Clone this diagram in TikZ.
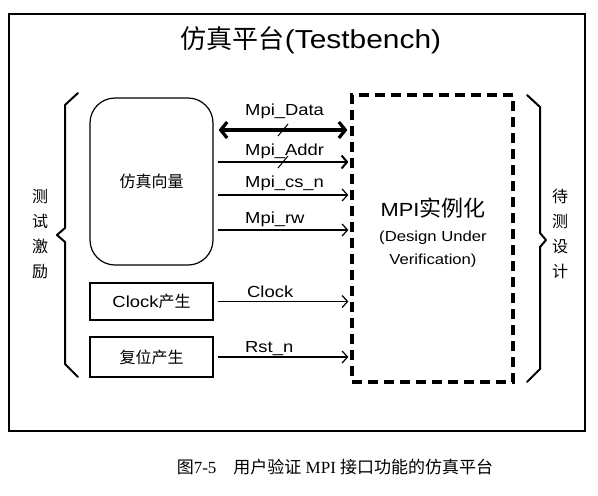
\documentclass[tikz,border=0pt]{standalone}
\usepackage{fontspec}
\setmainfont{Liberation Sans}[FakeStretch=1.15]
\newfontfamily\cjk{Noto Sans CJK SC}
\newfontfamily\capserif{Liberation Serif}
\usetikzlibrary{arrows.meta}
\begin{document}
\begin{tikzpicture}[x=1pt,y=-1pt,
  box/.style={draw,line width=1.2pt,inner sep=0pt,font=\fontsize{16}{18}\selectfont},
  sig/.style={line width=1.2pt,shorten <=4pt,shorten >=2pt,-{Straight Barb[length=5.5pt,width=12pt]}},
  lab/.style={anchor=base west,font=\fontsize{16}{18}\selectfont,inner sep=0pt},
  brace/.style={line width=2pt,line join=round,line cap=round},
  vtext/.style={font=\cjk\fontsize{16}{25}\selectfont,align=center,inner sep=0pt},
  slash/.style={line width=1pt}]
\useasboundingbox (0,0) rectangle (598,496);
% outer frame
\node[draw,line width=1.3pt,minimum width=576pt,minimum height=417pt,inner sep=0pt] (frame) at (297,222.5) {};
\node[font=\fontsize{26}{28}\selectfont,inner sep=0pt] (title) at (311,40) {{\cjk 仿真平台}(Testbench)};
% boxes
\node[box,rounded corners=25pt,minimum width=123pt,minimum height=167pt] (vec) at (151.5,181.5) {\cjk 仿真向量};
\node[box,minimum width=123pt,minimum height=37pt] (clk) at (151.5,301.5) {Clock{\cjk 产生}};
\node[box,minimum width=123pt,minimum height=40pt] (rst) at (151.5,357) {\cjk 复位产生};
\node[draw,line width=3.2pt,dash pattern=on 10pt off 6pt,minimum width=161pt,minimum height=287pt,inner sep=0pt] (dut) at (432.5,238.5) {};
\node[font=\fontsize{19}{22}\selectfont,inner sep=0pt] (dutname) at (433,208) {MPI{\cjk\fontsize{22}{24}\selectfont 实例化}};
\node[font=\fontsize{14.5}{23}\selectfont,align=center,inner sep=0pt] (dutsub) at (433,249) {(Design Under\\Verification)};
% row coordinates
\coordinate (yData) at (0,130);
\coordinate (yAddr) at (0,162);
\coordinate (yCs) at (0,195);
\coordinate (yRw) at (0,230);
% signals
\draw[line width=3.2pt,shorten <=5pt,shorten >=3pt,{Straight Barb[length=6.5pt,width=16pt]}-{Straight Barb[length=6.5pt,width=16pt]}] (vec.east |- yData) -- (dut.west |- yData);
\draw[sig,line width=2pt,-{Straight Barb[length=5.5pt,width=13pt]}] (vec.east |- yAddr) -- (dut.west |- yAddr);
\draw[sig] (vec.east |- yCs) -- (dut.west |- yCs);
\draw[sig] (vec.east |- yRw) -- (dut.west |- yRw);
\draw[sig] (clk.east) -- (clk.east -| dut.west);
\draw[sig] (rst.east) -- (rst.east -| dut.west);
% slashes
\coordinate (sD) at (283,130);
\coordinate (sA) at (283,162);
\draw[slash] ([shift={(-5pt,-6pt)}]sD) -- ([shift={(5pt,6pt)}]sD);
\draw[slash] ([shift={(-5pt,-6pt)}]sA) -- ([shift={(5pt,6pt)}]sA);
% labels
\node[lab] (lData) at (245,115) {Mpi\_Data};
\node[lab] (lAddr) at (245,155) {Mpi\_Addr};
\node[lab] (lCs) at (245,187) {Mpi\_cs\_n};
\node[lab] (lRw) at (245,223) {Mpi\_rw};
\node[lab] (lClk) at (247,297) {Clock};
\node[lab] (lRst) at (245,352) {Rst\_n};
% braces
\draw[brace] (78,93) -- (65,105) -- (65,228) -- (57,235) -- (65,242) -- (65,364) -- (78,377);
\draw[brace] (527,95) -- (540,107) -- (540,233) -- (546,240) -- (540,247) -- (540,369) -- (527,382);
\node[vtext] (left) at (40,234) {测\\试\\激\\励};
\node[vtext] (right) at (560,234) {待\\测\\设\\计};
% caption
\node[font=\fontsize{17}{19}\selectfont\capserif,inner sep=0pt] (cap) at (335,467) {{\cjk 图}7-5\quad{\cjk 用户验证} MPI {\cjk 接口功能的仿真平台}};
\end{tikzpicture}
\end{document}
